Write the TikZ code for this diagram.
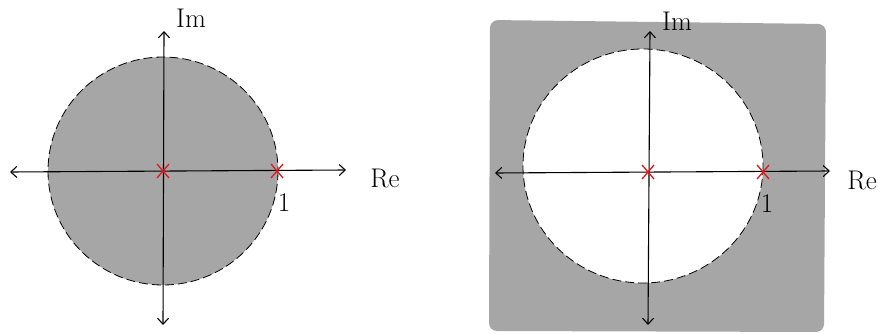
\documentclass[tikz,border=0pt]{standalone}
\usepackage{fontspec}
\usetikzlibrary{arrows.meta}
\definecolor{greyfill}{HTML}{A6A6A6}
\definecolor{xred}{HTML}{E8141C}
\begin{document}
\begin{tikzpicture}[x=1pt,y=-1pt,
  axis/.style={line width=1.1pt,black,{Straight Barb[length=6pt,width=11pt]}-{Straight Barb[length=6pt,width=11pt]}},
  rim/.style={black,line width=0.8pt,dash pattern=on 9pt off 4pt},
  crossm/.style={xred,line width=1.3pt},
  lab/.style={font=\fontsize{27}{29}\selectfont,inner sep=0pt}]
\useasboundingbox (0,0) rectangle (878,334);
% left diagram
\fill[greyfill] (163,171) ellipse [x radius=115, y radius=114];
\draw[rim] (163,171) ellipse [x radius=115, y radius=114];
\coordinate (Lw) at (10,172);
\coordinate (Le) at (346,170);
\coordinate (Ln) at (164,31);
\coordinate (Ls) at (163,325);
\draw[axis] (Lw) -- (Le);
\draw[axis] (Ls) -- (Ln);
\node[lab] (Lim) at (191,18) {Im};
\node[lab] (Lre) at (385,178) {Re};
\node[lab] (Lone) at (284,203) {1};
\coordinate (Lo) at (163,171);
\coordinate (Lp) at (277,171);
\foreach \c in {Lo,Lp}{
  \draw[crossm] ([shift={(-6,-7)}]\c) -- ([shift={(6,7)}]\c);
  \draw[crossm] ([shift={(6,-7)}]\c) -- ([shift={(-6,7)}]\c);
}
% right diagram
\fill[greyfill,rounded corners=8pt] (490,20) -- (826,24) -- (824,332) -- (489,331) -- cycle;
\fill[white] (643,166) ellipse [x radius=120, y radius=117];
\draw[rim] (643,166) ellipse [x radius=120, y radius=117];
\coordinate (Rw) at (495,173);
\coordinate (Re) at (830,171);
\coordinate (Rn) at (650,31);
\coordinate (Rs) at (648,325);
\draw[axis] (Rw) -- (Re);
\draw[axis] (Rs) -- (Rn);
\node[lab] (Rim) at (677,21) {Im};
\node[lab,anchor=east] (Rre) at (877,180) {Re};
\node[lab] (Rone) at (767,204) {1};
\coordinate (Ro) at (648,172);
\coordinate (Rp) at (763,172);
\foreach \c in {Ro,Rp}{
  \draw[crossm] ([shift={(-6,-7)}]\c) -- ([shift={(6,7)}]\c);
  \draw[crossm] ([shift={(6,-7)}]\c) -- ([shift={(-6,7)}]\c);
}
\end{tikzpicture}
\end{document}
